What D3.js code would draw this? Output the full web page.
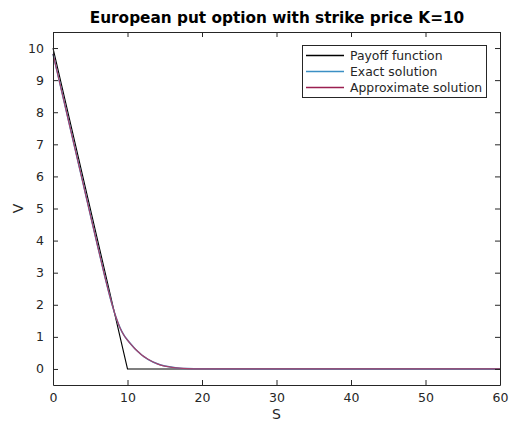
<!DOCTYPE html>
<html>
<head>
<meta charset="utf-8">
<script src="https://cdn.jsdelivr.net/npm/d3@7"></script>
<style>
  html, body { margin: 0; padding: 0; background: #ffffff; }
  svg { display: block; font-family: "DejaVu Sans", sans-serif; }
</style>
</head>
<body>
<svg id="chart" width="510" height="428"></svg>
<script>
// ---- data ----
const titleText = "European put option with strike price K=10";
const xLabel = "S";
const yLabel = "V";
const xTicks = [0, 10, 20, 30, 40, 50, 60];
const yTicks = [0, 1, 2, 3, 4, 5, 6, 7, 8, 9, 10];

const payoffS = [0, 10, 60];
const payoffV = [10, 0, 0];

const curveS = [0, 1, 2, 3, 4, 5, 6, 7, 7.5, 8, 8.5, 9, 9.5, 10, 10.5, 11, 11.5, 12, 12.5, 13, 13.5, 14, 15, 16, 17, 18, 20, 25, 30, 40, 50, 60];
const exactV = [9.82, 8.82, 7.82, 6.82, 5.82, 4.82, 3.82, 2.84, 2.38, 1.95, 1.58, 1.28, 1.06, 0.90, 0.76, 0.63, 0.52, 0.42, 0.34, 0.27, 0.21, 0.16, 0.09, 0.05, 0.025, 0.012, 0.003, 0, 0, 0, 0, 0];
const approxV = [9.82, 8.82, 7.82, 6.82, 5.82, 4.82, 3.82, 2.84, 2.38, 1.95, 1.58, 1.28, 1.06, 0.90, 0.76, 0.63, 0.52, 0.42, 0.34, 0.27, 0.21, 0.16, 0.09, 0.05, 0.025, 0.012, 0.003, 0, 0, 0, 0, 0];

const seriesNames = ["Payoff function", "Exact solution", "Approximate solution"];
const seriesColors = ["#000000", "#3b8fc4", "#9a1f50"];

// ---- layout ----
const svg = d3.select("#chart");
const mLeft = 53, mRight = 500, mTop = 32, mBottom = 385;
const axisColor = "#262626";

const x = d3.scaleLinear().domain([0, 60]).range([mLeft, mRight]);
const y = d3.scaleLinear().domain([-0.5, 10.5]).range([mBottom, mTop]);

// title
svg.append("text")
  .attr("x", (mLeft + mRight) / 2 + 0.5).attr("y", 23)
  .attr("text-anchor", "middle")
  .attr("font-weight", "bold").attr("font-size", 15.3)
  .attr("fill", "#000")
  .text(titleText);

// lines
const line = d3.line().x(d => x(d[0])).y(d => y(d[1]));
const smooth = d3.line().x(d => x(d[0])).y(d => y(d[1])).curve(d3.curveMonotoneX);

const plot = svg.append("g");
plot.append("path")
  .datum(payoffS.map((s, i) => [s, payoffV[i]]))
  .attr("d", line).attr("fill", "none")
  .attr("stroke", seriesColors[0]).attr("stroke-width", 1.1);
plot.append("path")
  .datum(curveS.map((s, i) => [s, exactV[i]]))
  .attr("d", smooth).attr("fill", "none")
  .attr("stroke", seriesColors[1]).attr("stroke-width", 1.5);
plot.append("path")
  .datum(curveS.map((s, i) => [s, approxV[i]]))
  .attr("d", smooth).attr("fill", "none")
  .attr("stroke", "#a8406a").attr("stroke-width", 1.2);

// axes (box with inward ticks on all four sides)
const tickLen = 5;
const gB = svg.append("g").attr("transform", `translate(0,${mBottom})`)
  .call(d3.axisBottom(x).tickValues(xTicks).tickSizeInner(-tickLen).tickSizeOuter(0).tickPadding(8));
const gT = svg.append("g").attr("transform", `translate(0,${mTop})`)
  .call(d3.axisTop(x).tickValues(xTicks).tickSizeInner(-tickLen).tickSizeOuter(0).tickFormat(""));
const gL = svg.append("g").attr("transform", `translate(${mLeft},0)`)
  .call(d3.axisLeft(y).tickValues(yTicks).tickSizeInner(-tickLen).tickSizeOuter(0).tickPadding(9));
const gR = svg.append("g").attr("transform", `translate(${mRight},0)`)
  .call(d3.axisRight(y).tickValues(yTicks).tickSizeInner(-tickLen).tickSizeOuter(0).tickFormat(""));

[gB, gT, gL, gR].forEach(g => {
  g.selectAll("path").attr("stroke", axisColor).attr("stroke-width", 1);
  g.selectAll("line").attr("stroke", axisColor).attr("stroke-width", 1);
  g.selectAll("text").attr("fill", axisColor).attr("font-size", 12.5)
    .attr("font-family", "DejaVu Sans, sans-serif");
});

// axis labels
svg.append("text")
  .attr("x", (mLeft + mRight) / 2).attr("y", 419)
  .attr("text-anchor", "middle").attr("font-size", 14)
  .attr("fill", axisColor).text(xLabel);
svg.append("text")
  .attr("transform", `translate(23,${(mTop + mBottom) / 2}) rotate(-90)`)
  .attr("text-anchor", "middle").attr("font-size", 14)
  .attr("fill", axisColor).text(yLabel);

// legend
const lg = svg.append("g");
const lx = 302, ly = 45, lw = 184, lh = 52;
lg.append("rect").attr("x", lx + 0.5).attr("y", ly + 0.5).attr("width", lw).attr("height", lh)
  .attr("fill", "#fff").attr("stroke", axisColor).attr("stroke-width", 1);
seriesNames.forEach((name, i) => {
  const yy = ly + 10.5 + i * 16;
  lg.append("line").attr("x1", lx + 4).attr("x2", lx + 42).attr("y1", yy).attr("y2", yy)
    .attr("stroke", seriesColors[i]).attr("stroke-width", 1.3);
  lg.append("text").attr("x", lx + 48).attr("y", yy + 4.5)
    .attr("font-size", 12.4).attr("fill", axisColor).text(name);
});
</script>
</body>
</html>
